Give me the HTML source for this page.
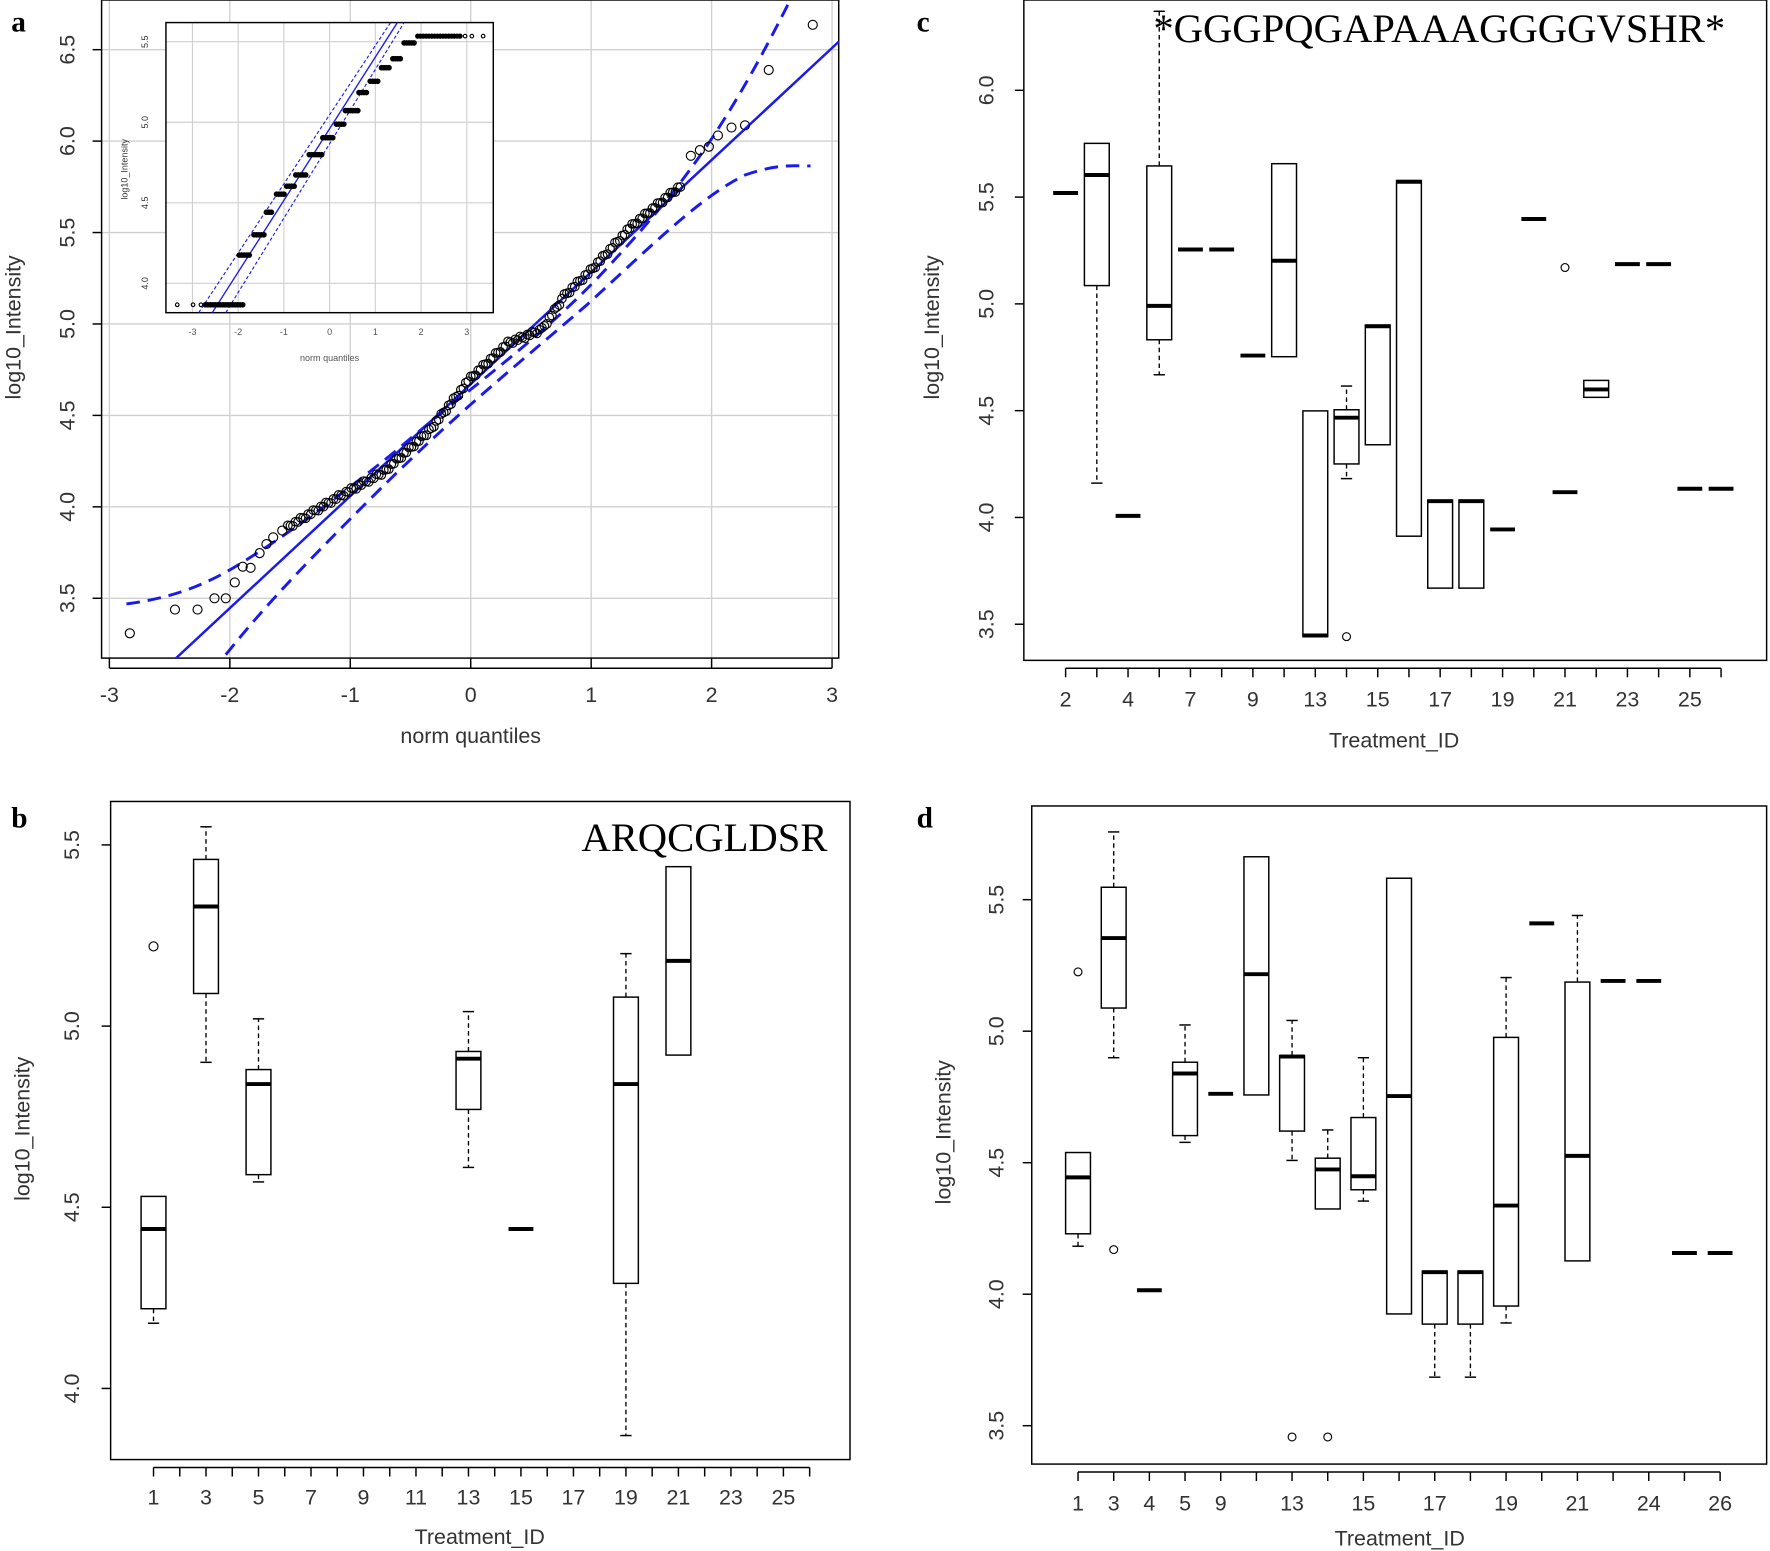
<!DOCTYPE html>
<html><head><meta charset="utf-8">
<style>html,body{margin:0;padding:0;background:#fff}svg{display:block}</style>
</head><body>
<svg id="s" xmlns="http://www.w3.org/2000/svg" width="1770" height="1551" viewBox="0 0 1568 1374" preserveAspectRatio="none" font-family="Liberation Sans, sans-serif">
<rect width="1568" height="1374" fill="#fff"/>
<g id="g"></g>
</svg>
<script>
var out=[];
function L(x1,y1,x2,y2,st){out.push('<line x1="'+x1+'" y1="'+y1+'" x2="'+x2+'" y2="'+y2+'" '+(st||'stroke="#000" stroke-width="1.3"')+'/>');}
function T(x,y,t,sz,extra){out.push('<text x="'+x+'" y="'+y+'" font-size="'+sz+'" '+(extra||'')+'>'+t+'</text>');}
function R(x,y,w,h,st){out.push('<rect x="'+x+'" y="'+y+'" width="'+w+'" height="'+h+'" fill="none" '+(st||'stroke="#000" stroke-width="1.3"')+'/>');}
function C(x,y,r,f){out.push('<circle cx="'+x+'" cy="'+y+'" r="'+r+'" fill="'+(f||'none')+'" stroke="#000" stroke-width="1"/>');}
function P(d,st){out.push('<path d="'+d+'" fill="none" '+st+'/>');}
function ylab(x,y,t,sz){T(x,y,t,sz,'fill="#333" text-anchor="middle" transform="rotate(-90 '+x+' '+y+')"');}
// box: x center, lo whisker, q1, med, q3, hi whisker (pixel y), w
function B(x,lo,q1,md,q3,hi,w){w=w||22;var h=w/2;
 if(q1!=null){R(x-h,q3,w,q1-q3);}
 L(x-h,md,x+h,md,'stroke="#000" stroke-width="3.5"');
 var d='stroke="#000" stroke-width="1.2" stroke-dasharray="4,3"';
 if(lo!=null){L(x,q1,x,lo,d);L(x-5,lo,x+5,lo);}
 if(hi!=null){L(x,q3,x,hi,d);L(x-5,hi,x+5,hi);}
}
// ---------- Panel a ----------
T(10,28,'a',26,'font-family="Liberation Serif, serif" font-weight="bold"');
var ax=function(v){return 417+v*106.7}, ay=function(v){return 530-(v-3.5)*162};
for(var i=-3;i<=3;i++){L(ax(i),0,ax(i),583,'stroke="#d0d0d0" stroke-width="1.2"');}
for(var v=3.5;v<=6.51;v+=0.5){L(90,ay(v),743,ay(v),'stroke="#d0d0d0" stroke-width="1.2"');}
R(90,0,653,583);
for(var i=-3;i<=3;i++){L(ax(i),583,ax(i),592);T(ax(i),622,(i<0?'-':'')+Math.abs(i),19,'fill="#333" text-anchor="middle"');}
L(97,592,737,592);
for(var v=3.5;v<=6.51;v+=0.5){L(90,ay(v),82,ay(v));ylab(66,ay(v),v.toFixed(1),19);}
T(417,658,'norm quantiles',19,'fill="#333" text-anchor="middle"');
ylab(18,290,'log10_Intensity',19);
var blue='stroke="#1a1aee" stroke-width="2.2"',bd='stroke="#1a1aee" stroke-width="2.6" stroke-dasharray="12,7"';
L(156,583,743,37,blue);
P('M112,535 C150,530 180,520 215,498 C260,470 300,440 350,400 C420,340 480,300 540,235 C600,170 640,120 700,0',bd);
P('M200,580 C240,530 280,490 330,440 C400,370 450,330 520,270 C580,215 620,175 660,155 C690,145 700,147 718,147',bd);
// sparse points
[[115,561],[155,540],[175,540],[190,530],[200,530],[208,516],[215,502],[222,503],[230,490],[236,482],[242,476],[250,470],[681,62],[720,22],[612,138],[620,133],[628,130],[636,120],[648,113],[660,111]].forEach(function(p){C(p[0],p[1],4);});
var kp=[[255,467],[300,440],[340,418],[380,382],[417,335],[450,304],[480,292],[500,262],[523,240],[560,200],[605,163]];
for(var k=0;k<kp.length-1;k++){var a=kp[k],b=kp[k+1];var n=Math.round((b[0]-a[0])/2.2);for(var j=0;j<n;j++){var t=j/n;C(a[0]+(b[0]-a[0])*t,a[1]+(b[1]-a[1])*t+((j*7)%5-2)*0.8,3.8);}}
// inset
out.push('<rect x="147" y="20" width="290" height="257" fill="#fff" stroke="none"/>');
var ix=function(v){return 292+v*40.5}, iy=function(v){return 251-(v-4)*142.7};
for(var i=-3;i<=3;i++){L(ix(i),20,ix(i),277,'stroke="#d0d0d0" stroke-width="1"');}
for(var v=4;v<=5.51;v+=0.5){L(147,iy(v),437,iy(v),'stroke="#d0d0d0" stroke-width="1"');}
R(147,20,290,257);
for(var i=-3;i<=3;i++){T(ix(i),297,i,8,'fill="#555" text-anchor="middle"');}
for(var v=4;v<=5.51;v+=0.5){ylab(131,iy(v),v.toFixed(1),8);}
T(292,320,'norm quantiles',8,'fill="#555" text-anchor="middle"');
ylab(113,150,'log10_Intensity',8);
L(188,277,352,20,'stroke="#1a1aee" stroke-width="1.2"');
L(176,277,346,20,'stroke="#1a1aee" stroke-width="1" stroke-dasharray="3,2"');
L(200,277,358,20,'stroke="#1a1aee" stroke-width="1" stroke-dasharray="3,2"');
[[157,270],[171,270],[178,270]].forEach(function(p){C(p[0],p[1],1.6);});
var st=[[182,215,270],[212,222,226],[225,235,208],[236,242,188],[245,252,172],[254,262,165],[262,272,155],[274,286,137],[286,296,122],[298,306,110],[306,318,98],[318,326,82],[328,336,72],[338,346,60],[348,356,52],[358,368,38]];
st.forEach(function(s){for(var x=s[0];x<=s[1];x+=2.2)C(x,s[2],2,'#000');});
for(var x=370;x<=408;x+=2.5)C(x,32,1.8,'#000');
[[412,32],[418,32],[428,32]].forEach(function(p){C(p[0],p[1],1.6);});
// ---------- Panel b ----------
T(10,733,'b',26,'font-family="Liberation Serif, serif" font-weight="bold"');
R(98,710,655,583);
var by=function(v){return 1230-(v-4)*321}, bx=function(i){return 136+(i-1)*23.25};
for(var v=4;v<=5.51;v+=0.5){L(98,by(v),90,by(v));ylab(70,by(v),v.toFixed(1),19);}
L(bx(1),1300,bx(26),1300);
for(var i=1;i<=26;i++){L(bx(i),1300,bx(i),1308);if(i%2==1)T(bx(i),1333,i,19,'fill="#333" text-anchor="middle"');}
T(425,1368,'Treatment_ID',19,'fill="#333" text-anchor="middle"');
ylab(26,1000,'log10_Intensity',19);
T(733,754,'ARQCGLDSR',36,'font-family="Liberation Serif, serif" text-anchor="end"');
B(bx(1),by(4.18),by(4.22),by(4.44),by(4.53),null);C(bx(1),by(5.22),4);
B(bx(3),by(4.9),by(5.09),by(5.33),by(5.46),by(5.55));
B(bx(5),by(4.57),by(4.59),by(4.84),by(4.88),by(5.02));
B(bx(13),by(4.61),by(4.77),by(4.91),by(4.93),by(5.04));
B(bx(15),null,null,by(4.44),null,null);
B(bx(19),by(3.87),by(4.29),by(4.84),by(5.08),by(5.2));
B(bx(21),null,by(4.92),by(5.18),by(5.44),null);
// ---------- Panel c ----------
T(812,28,'c',26,'font-family="Liberation Serif, serif" font-weight="bold"');
R(907,0,658,585);
var cy=function(v){return 553-(v-3.5)*189.2}, cx=function(i){return 944+i*27.65};
for(var v=3.5;v<=6.01;v+=0.5){L(907,cy(v),899,cy(v));ylab(880,cy(v),v.toFixed(1),19);}
L(cx(0),592,cx(21),592);
var cl=['2','','4','','7','','9','','13','','15','','17','','19','','21','','23','','25',''];
for(var i=0;i<22;i++){L(cx(i),592,cx(i),600);if(cl[i])T(cx(i),626,cl[i],19,'fill="#333" text-anchor="middle"');}
T(1235,662,'Treatment_ID',19,'fill="#333" text-anchor="middle"');
ylab(832,290,'log10_Intensity',19);
T(1275,37,'*GGGPQGAPAAAGGGGVSHR*',36,'font-family="Liberation Serif, serif" text-anchor="middle"');
B(cx(0),null,null,171,null,null);
B(cx(1),428,253,155,127,null);
B(cx(2),null,null,457,null,null);
B(cx(3),332,301,271,147,10);
B(cx(4),null,null,221,null,null);B(cx(5),null,null,221,null,null);
B(cx(6),null,null,315,null,null);
B(cx(7),null,316,231,145,null);
B(cx(8),null,564,563,364,null);
B(cx(9),424,411,370,363,342);C(cx(9),564,3.5);
B(cx(10),null,394,289,288,null);
B(cx(11),null,475,161,160,null);
B(cx(12),null,521,444,443,null);B(cx(13),null,521,444,443,null);
B(cx(14),null,null,469,null,null);
B(cx(15),null,null,194,null,null);
B(cx(16),null,null,436,null,null);C(cx(16),237,3.5);
B(cx(17),null,352,345,337,null);
B(cx(18),null,null,234,null,null);B(cx(19),null,null,234,null,null);
B(cx(20),null,null,433,null,null);B(cx(21),null,null,433,null,null);
// ---------- Panel d ----------
T(812,733,'d',26,'font-family="Liberation Serif, serif" font-weight="bold"');
R(914,714,651,583);
var dy=function(v){return 1263-(v-3.5)*233}, dx=function(i){return 955+i*31.6};
for(var v=3.5;v<=5.51;v+=0.5){L(914,dy(v),906,dy(v));ylab(889,dy(v),v.toFixed(1),19);}
L(dx(0),1304,dx(18),1304);
var dl=['1','3','4','5','9','','13','','15','','17','','19','','21','','24','','26'];
for(var i=0;i<19;i++){L(dx(i),1304,dx(i),1312);if(dl[i])T(dx(i),1338,dl[i],19,'fill="#333" text-anchor="middle"');}
T(1240,1369,'Treatment_ID',19,'fill="#333" text-anchor="middle"');
ylab(842,1003,'log10_Intensity',19);
B(dx(0),1104,1093,1043,1021,null);C(dx(0),861,3.5);
B(dx(1),937,893,831,786,737);C(dx(1),1107,3.5);
B(dx(2),null,null,1143,null,null);
B(dx(3),1012,1006,951,941,908);
B(dx(4),null,null,969,null,null);
B(dx(5),null,970,863,759,null);
B(dx(6),1028,1002,936,935,904);C(dx(6),1273,3.5);
B(dx(7),null,1071,1036,1026,1001);C(dx(7),1273,3.5);
B(dx(8),1064,1054,1042,990,937);
B(dx(9),null,1164,971,778,null);
B(dx(10),1220,1173,1127,1126,null);B(dx(11),1220,1173,1127,1126,null);
B(dx(12),1172,1157,1068,919,866);
B(dx(13),null,null,818,null,null);
B(dx(14),null,1117,1024,870,811);
B(dx(15),null,null,869,null,null);B(dx(16),null,null,869,null,null);
B(dx(17),null,null,1110,null,null);B(dx(18),null,null,1110,null,null);
document.getElementById('g').innerHTML=out.join('');
</script>
</body></html>
